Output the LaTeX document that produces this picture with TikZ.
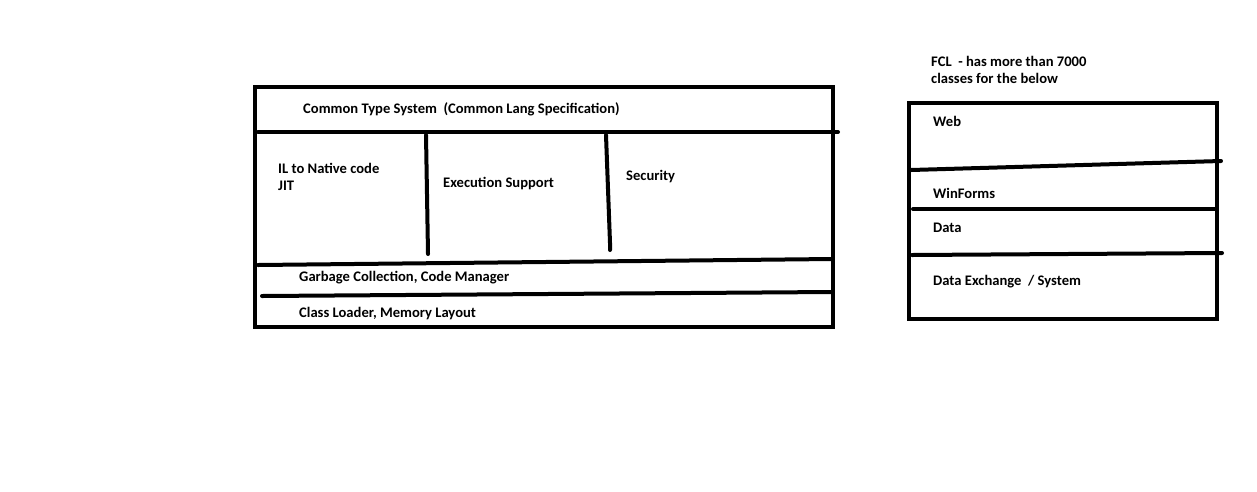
\documentclass[tikz,border=0pt]{standalone}
\usepackage{fontspec}
\setmainfont{Carlito}
\begin{document}
\begin{tikzpicture}[x=1pt,y=-1pt,
  stroke/.style={line width=4pt,line cap=round,line join=miter},
  lbl/.style={anchor=west,inner sep=0pt,font=\bfseries\fontsize{14.6}{17}\selectfont,align=left}]
\useasboundingbox[fill=white] (0,0) rectangle (1257,491);
% CLR box
\draw[stroke,line cap=rect] (255,87) rectangle (833,327);
\coordinate (h1a) at (258,132); \coordinate (h1b) at (838,132);
\coordinate (v1a) at (426,135); \coordinate (v1b) at (428,254);
\coordinate (v2a) at (606,135); \coordinate (v2b) at (610,243); \coordinate (v2c) at (610,250);
\coordinate (h2a) at (258,265); \coordinate (h2b) at (832,259);
\coordinate (h3a) at (262,296); \coordinate (h3b) at (832,292);
\draw[stroke] (h1a) -- (h1b);
\draw[stroke] (v1a) -- (v1b);
\draw[stroke] (v2a) -- (v2b) -- (v2c);
\draw[stroke] (h2a) -- (h2b);
\draw[stroke] (h3a) -- (h3b);
\node[lbl] (cts) at (303,109) {Common Type System\ \ (Common Lang Specification)};
\node[lbl] (il) at (278,177) {IL to Native code\\JIT};
\node[lbl] (exe) at (443,184) {Execution Support};
\node[lbl] (sec) at (626,177) {Security};
\node[lbl] (gc) at (299,278) {Garbage Collection, Code Manager};
\node[lbl] (cl) at (299,314) {Class Loader, Memory Layout};
% FCL box
\draw[stroke,line cap=rect] (909,103) rectangle (1217,319);
\coordinate (f1a) at (911,170); \coordinate (f1b) at (1221,161);
\coordinate (f2a) at (913,209); \coordinate (f2b) at (1215,209);
\coordinate (f3a) at (912,255); \coordinate (f3b) at (1222,253);
\draw[stroke] (f1a) -- (f1b);
\draw[stroke] (f2a) -- (f2b);
\draw[stroke] (f3a) -- (f3b);
\node[lbl] (fcl) at (931,70) {FCL\ \ - has more than 7000\\classes for the below};
\node[lbl] (web) at (933,121) {Web};
\node[lbl] (wf) at (933,193) {WinForms};
\node[lbl] (data) at (933,228) {Data};
\node[lbl] (dx) at (933,282) {Data Exchange\ \ / System};
\end{tikzpicture}
\end{document}
